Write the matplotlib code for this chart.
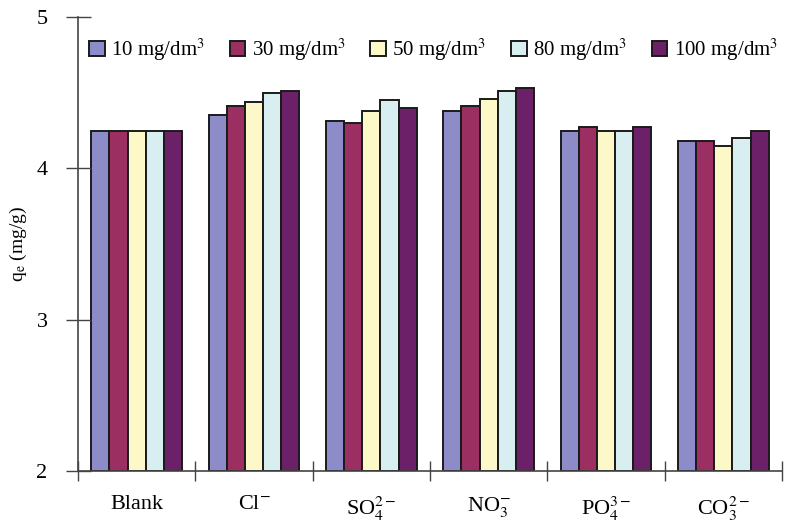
import matplotlib
matplotlib.use("Agg")
import matplotlib.pyplot as plt
import numpy as np

plt.rcParams['font.family'] = ['Liberation Serif', 'DejaVu Serif']
plt.rcParams['mathtext.fontset'] = 'stix'

categories = ['Blank', r'Cl$^{-}$', r'SO$_4^{2-}$', r'NO$_3^{-}$', r'PO$_4^{3-}$', r'CO$_3^{2-}$']
series_labels = [r'10 mg/dm$^3$', r'30 mg/dm$^3$', r'50 mg/dm$^3$', r'80 mg/dm$^3$', r'100 mg/dm$^3$']
s10 = [4.25, 4.35, 4.31, 4.38, 4.25, 4.18]
s30 = [4.25, 4.41, 4.30, 4.41, 4.27, 4.18]
s50 = [4.25, 4.44, 4.38, 4.46, 4.25, 4.15]
s80 = [4.25, 4.50, 4.45, 4.51, 4.25, 4.20]
s100 = [4.25, 4.51, 4.40, 4.53, 4.27, 4.25]
series = [s10, s30, s50, s80, s100]
colors = ['#8e8cc8', '#9c2f62', '#fdf8c8', '#d9eef1', '#6b2068']

fig = plt.figure(figsize=(7.85, 5.23), dpi=100)
ax = fig.add_axes([78/785, 1 - 471/523, (782-78)/785, (471-17)/523])

x = np.arange(len(categories))
w = 0.155
for i, (vals, c, lab) in enumerate(zip(series, colors, series_labels)):
    ax.bar(x + (i - 2) * w, np.array(vals) - 2, bottom=2, width=w, color=c,
           edgecolor='#1a1a1a', linewidth=1.4, label=lab)

ax.set_ylim(2, 5)
ax.set_xlim(-0.5, len(categories) - 0.5)
ax.set_yticks([2, 3, 4, 5])
ax.set_yticklabels(['2', '3', '4', '5'], fontsize=16)
ax.set_xticks(np.arange(len(categories) + 1) - 0.5)
ax.set_xticklabels([])
ax.set_xticks(x, minor=True)
ax.set_xticklabels(categories, minor=True, fontsize=16)
ax.tick_params(axis='x', which='minor', length=0, pad=17)
ax.tick_params(axis='x', which='major', direction='inout', length=14, width=1, color='#444444')
ax.tick_params(axis='y', direction='inout', length=18, width=1, color='#444444', pad=13)
ax.spines['top'].set_visible(False)
ax.spines['right'].set_visible(False)
for s in ['left', 'bottom']:
    ax.spines[s].set_color('#444444')
    ax.spines[s].set_linewidth(1.2)
ax.set_ylabel(r'q$_{\mathrm{e}}$ (mg/g)', fontsize=14)
ax.yaxis.set_label_coords(-0.069, 0.5)

leg = ax.legend(loc='upper center', bbox_to_anchor=(0.505, 0.975), ncol=5, frameon=False,
                fontsize=15, handlelength=0.75, handleheight=0.75, handletextpad=0.3,
                columnspacing=1.2, borderaxespad=0)

fig.savefig('out.png', dpi=100)
